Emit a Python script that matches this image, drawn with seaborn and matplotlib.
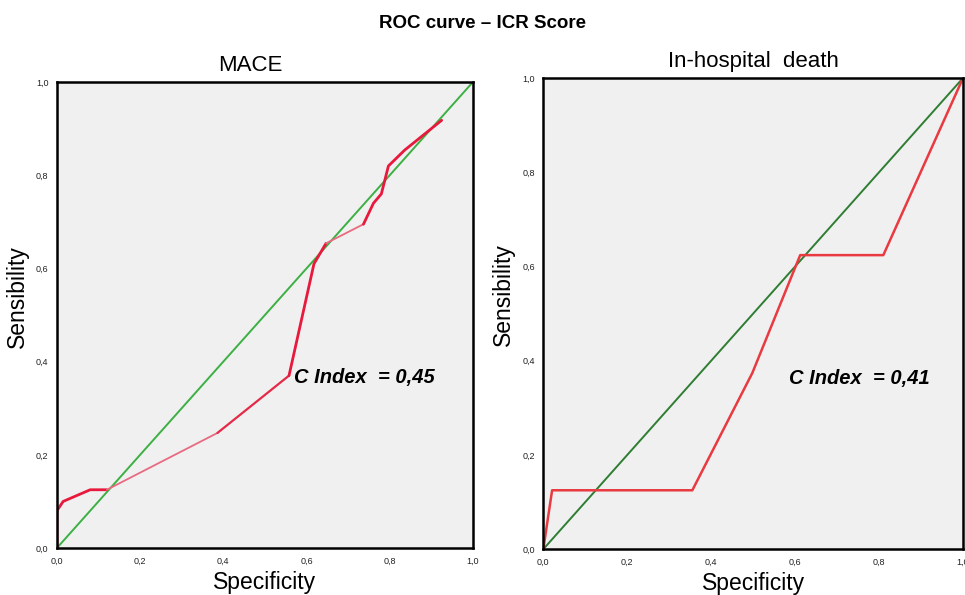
import matplotlib
matplotlib.use("Agg")
import matplotlib.pyplot as plt
import seaborn as sns

sns.set_theme(style="white")
plt.rcParams['font.family'] = ['Liberation Sans', 'DejaVu Sans']
plt.rcParams['text.color'] = 'black'
plt.rcParams['axes.labelcolor'] = 'black'

# Data
mace_spec = [0.0, 0.0, 0.015, 0.08, 0.12, 0.386, 0.558, 0.618, 0.647, 0.737, 0.761, 0.78, 0.797, 0.836, 0.925]
mace_sens = [0.0, 0.08, 0.10, 0.125, 0.125, 0.247, 0.37, 0.61, 0.654, 0.695, 0.74, 0.76, 0.82, 0.854, 0.918]
death_spec = [0.0, 0.021, 0.355, 0.498, 0.612, 0.81, 1.0]
death_sens = [0.0, 0.125, 0.125, 0.374, 0.624, 0.624, 1.0]
ref_line = [0.0, 1.0]
ticks = [0.0, 0.2, 0.4, 0.6, 0.8, 1.0]
tick_labels = ["0,0", "0,2", "0,4", "0,6", "0,8", "1,0"]
titles = ["MACE", "In-hospital  death"]
c_index = ["C Index  = 0,45", "C Index  = 0,41"]

# style of MACE curve pieces: (start index, end index, width, colour)
mace_pieces = [(0, 4, 2.0, "#e8193c"), (4, 5, 1.3, "#e86a80"), (5, 6, 1.6, "#e42a48"),
               (6, 8, 2.0, "#e8193c"), (8, 9, 1.3, "#e86a80"), (9, 14, 2.0, "#e8193c")]

fig = plt.figure(figsize=(9.65, 5.95), dpi=100)
ax1 = fig.add_axes([0.059, 0.079, 0.431, 0.783])
ax2 = fig.add_axes([0.563, 0.077, 0.435, 0.792])

panels = [
    (ax1, "#3cb043", titles[0], 0.465, c_index[0], (0.57, 0.355)),
    (ax2, "#2e7d32", titles[1], 0.5, c_index[1], (0.585, 0.35)),
]

for ax, gcol, title, tx, ctext, cpos in panels:
    ax.set_facecolor("#f0f0f0")
    sns.lineplot(x=ref_line, y=ref_line, ax=ax, color=gcol, lw=1.4, sort=False, estimator=None)

for a, b, w, c in mace_pieces:
    sns.lineplot(x=mace_spec[a:b + 1], y=mace_sens[a:b + 1], ax=ax1, color=c, lw=w,
                 sort=False, estimator=None)
sns.lineplot(x=death_spec, y=death_sens, ax=ax2, color="#e83a40", lw=1.8, sort=False, estimator=None)

for ax, gcol, title, tx, ctext, cpos in panels:
    ax.set_xlim(0, 1)
    ax.set_ylim(0, 1)
    ax.set_xticks(ticks)
    ax.set_yticks(ticks)
    ax.set_xticklabels(tick_labels, fontsize=6.5)
    ax.set_yticklabels(tick_labels, fontsize=6.5)
    ax.tick_params(axis="both", direction="out", length=4, width=0.8, pad=2,
                   colors="#222222", labelcolor="#222222")
    for s in ax.spines.values():
        s.set_visible(True)
        s.set_color("black")
        s.set_linewidth(1.8)
    ax.set_xlabel("Specificity", fontsize=16.5, labelpad=4)
    ax.set_ylabel("Sensibility", fontsize=16.5)
    ax.yaxis.set_label_coords(-0.067, 0.54)
    ax.set_title(title, fontsize=16, pad=8, x=tx)
    ax.text(cpos[0], cpos[1], ctext, transform=ax.transAxes, fontsize=14.5,
            fontweight="bold", fontstyle="italic", color="black")

fig.suptitle("ROC curve – ICR Score", fontsize=13.5, fontweight="bold", y=0.975)
fig.savefig("out.png", dpi=100, facecolor="white")
